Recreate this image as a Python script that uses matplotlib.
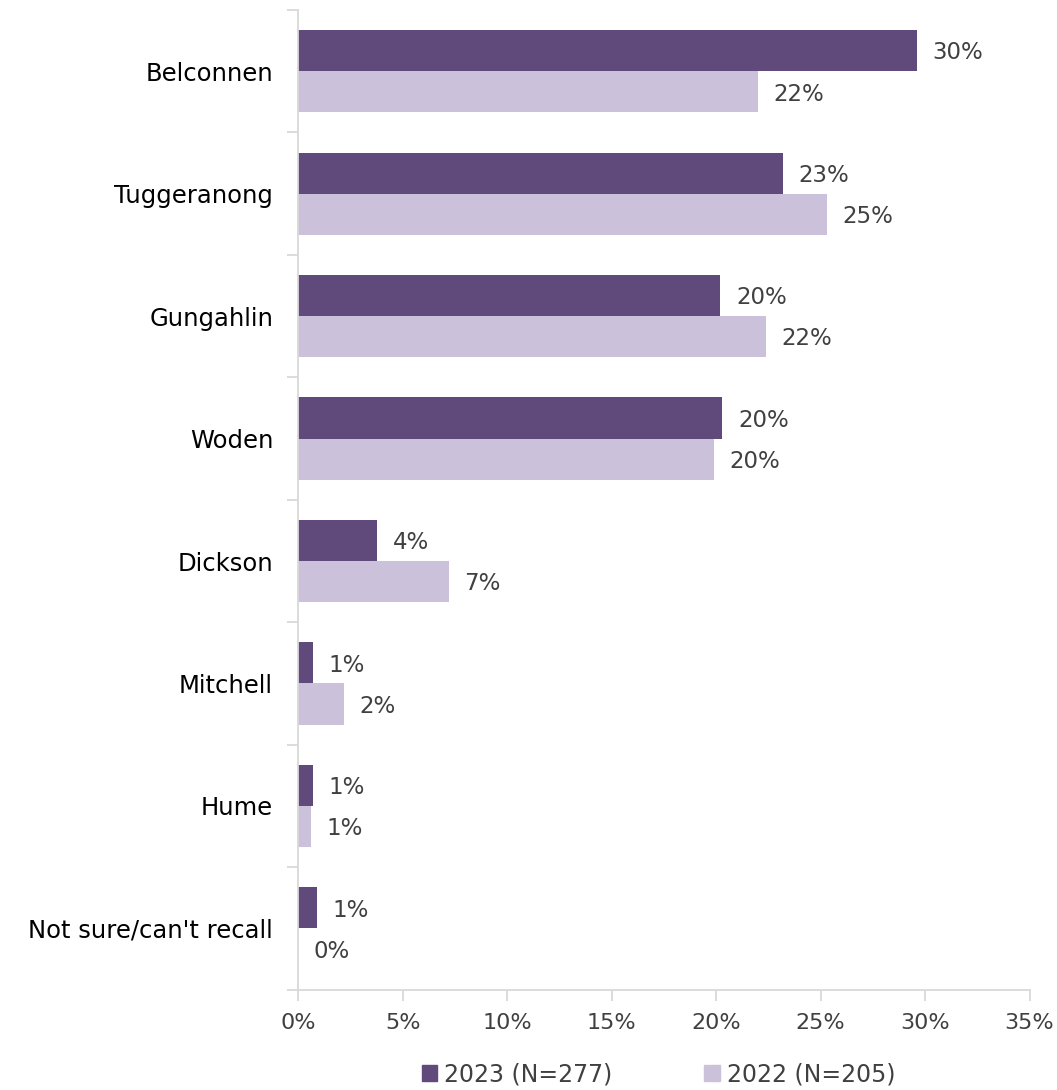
import numpy as np
import matplotlib
matplotlib.use("Agg")
from matplotlib import pyplot as plt
from matplotlib.patches import Patch

plt.rcParams['font.family'] = ['DejaVu Sans']

categories = ["Belconnen", "Tuggeranong", "Gungahlin", "Woden", "Dickson",
              "Mitchell", "Hume", "Not sure/can't recall"]
vals_2023 = [29.6, 23.2, 20.2, 20.3, 3.8, 0.7, 0.7, 0.9]
vals_2022 = [22.0, 25.3, 22.4, 19.9, 7.2, 2.2, 0.6, 0.0]
labels_2023 = ["30%", "23%", "20%", "20%", "4%", "1%", "1%", "1%"]
labels_2022 = ["22%", "25%", "22%", "20%", "7%", "2%", "1%", "0%"]
series_names = ["2023 (N=277)", "2022 (N=205)"]
xticks = [0, 5, 10, 15, 20, 25, 30, 35]

c23 = "#604a7b"
c22 = "#ccc1da"
grey = "#d9d9d9"
txt = "#404040"

fig = plt.figure(figsize=(10.57, 10.9), dpi=100)
ax = fig.add_axes([0.282, 0.092, 0.692, 0.899])

n = len(categories)
y = np.arange(n)
h = 0.335
ax.barh(y - h / 2, vals_2023, height=h, color=c23)
ax.barh(y + h / 2, vals_2022, height=h, color=c22)

for i in range(n):
    ax.text(vals_2023[i] + 0.75, y[i] - h / 2 + 0.02, labels_2023[i],
            va='center', ha='left', fontsize=16.5, color=txt)
    ax.text(vals_2022[i] + 0.75, y[i] + h / 2 + 0.02, labels_2022[i],
            va='center', ha='left', fontsize=16.5, color=txt)

ax.set_ylim(n - 0.5, -0.5)
ax.set_xlim(0, 35)

# category labels sit at group centres, ticks at group boundaries
ax.set_yticks(y)
ax.set_yticklabels(categories, fontsize=17.5, color='black')
ax.tick_params(axis='y', length=0, pad=18)
ax.set_yticks(np.arange(-0.5, n, 1.0), minor=True)
ax.tick_params(axis='y', which='minor', length=8, color=grey, width=1.3)

ax.set_xticks(xticks)
ax.set_xticklabels([f"{t}%" for t in xticks], fontsize=16, color=txt)
ax.tick_params(axis='x', length=8, color=grey, width=1.3, pad=9)

for s in ['top', 'right']:
    ax.spines[s].set_visible(False)
for s in ['left', 'bottom']:
    ax.spines[s].set_color(grey)
    ax.spines[s].set_linewidth(1.3)

handles = [Patch(color=c23), Patch(color=c22)]
fig.legend(handles, series_names, loc='lower center', ncol=2,
           bbox_to_anchor=(0.623, -0.016), frameon=False, fontsize=17,
           handlelength=0.65, handleheight=0.65, handletextpad=0.3,
           columnspacing=3.9, labelcolor=txt)

fig.savefig("out.png", dpi=100)
